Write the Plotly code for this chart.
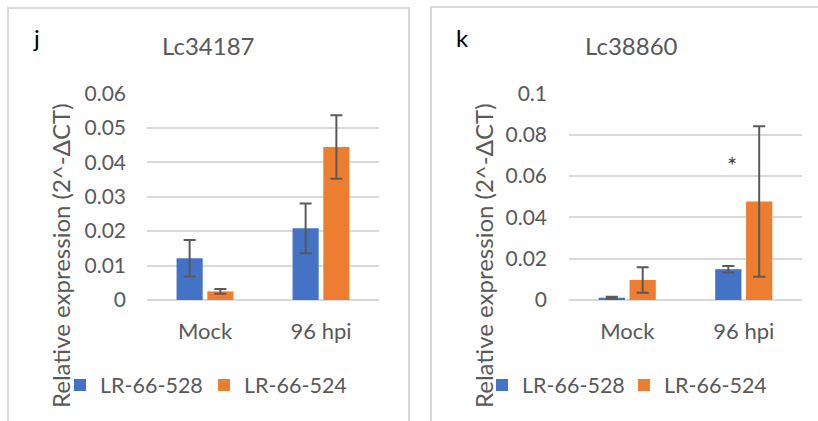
import plotly.graph_objects as go

W, H = 818, 421

categories = ["Mock", "96 hpi"]
series_names = ["LR-66-528", "LR-66-524"]
colors = ["#4472C4", "#ED7D31"]

# Panel j: Lc34187
j_vals = {"LR-66-528": [0.0121, 0.0208], "LR-66-524": [0.0025, 0.0444]}
j_err = {"LR-66-528": [0.0053, 0.0072], "LR-66-524": [0.0007, 0.0092]}
j_ticks = [0, 0.01, 0.02, 0.03, 0.04, 0.05, 0.06]
j_ticklabels = ["0", "0.01", "0.02", "0.03", "0.04", "0.05", "0.06"]

# Panel k: Lc38860
k_vals = {"LR-66-528": [0.0011, 0.0149], "LR-66-524": [0.0097, 0.0476]}
k_err = {"LR-66-528": [0.0005, 0.0016], "LR-66-524": [0.0062, 0.0364]}
k_ticks = [0, 0.02, 0.04, 0.06, 0.08, 0.1]
k_ticklabels = ["0", "0.02", "0.04", "0.06", "0.08", "0.1"]
k_star_y = 0.0673

FONT = "Lato"
GRAY = "#595959"
GRID = "#d9d9d9"

fig = go.Figure()

for name, col in zip(series_names, colors):
    fig.add_trace(go.Bar(
        x=categories, y=j_vals[name], name=name, marker_color=col,
        marker_line_width=0,
        error_y=dict(type="data", array=j_err[name], color=GRAY, thickness=2, width=6),
        xaxis="x", yaxis="y", legend="legend", legendgroup="j" + name))
for name, col in zip(series_names, colors):
    fig.add_trace(go.Bar(
        x=categories, y=k_vals[name], name=name, marker_color=col,
        marker_line_width=0,
        error_y=dict(type="data", array=k_err[name], color=GRAY, thickness=2, width=6),
        xaxis="x2", yaxis="y2", legend="legend2", legendgroup="k" + name))

def px(x):
    return x / W

def py(y):
    return 1 - y / H

ydom = [py(300), py(93.3)]
xfont = dict(family=FONT, size=22, color=GRAY)
yfont = dict(family=FONT, size=21, color=GRAY)
legfont = dict(family=FONT, size=21.5, color=GRAY)

fig.update_layout(
    width=W, height=H, margin=dict(l=0, r=0, t=0, b=0, autoexpand=False),
    paper_bgcolor="white", plot_bgcolor="white",
    barmode="group", bargap=0.47, bargroupgap=0.15,
    xaxis=dict(domain=[px(147), px(379)], anchor="y", showgrid=False, showline=False,
               ticks="", tickfont=xfont, ticklabelstandoff=16, automargin=False),
    yaxis=dict(domain=ydom, anchor="x", range=[0, 0.06], tickvals=j_ticks,
               ticktext=j_ticklabels, showgrid=True, gridcolor=GRID, gridwidth=2,
               zeroline=True, zerolinecolor=GRID, zerolinewidth=2, showline=False,
               ticks="", tickfont=yfont, ticklabelstandoff=20, automargin=False),
    xaxis2=dict(domain=[px(569), px(802)], anchor="y2", showgrid=False, showline=False,
                ticks="", tickfont=xfont, ticklabelstandoff=16, automargin=False),
    yaxis2=dict(domain=ydom, anchor="x2", range=[0, 0.1], tickvals=k_ticks,
                ticktext=k_ticklabels, showgrid=True, gridcolor=GRID, gridwidth=2,
                zeroline=True, zerolinecolor=GRID, zerolinewidth=2, showline=False,
                ticks="", tickfont=yfont, ticklabelstandoff=21, automargin=False),
    legend=dict(orientation="h", x=px(60), y=py(385), xanchor="left", yanchor="middle",
                font=legfont, bgcolor="rgba(0,0,0,0)",
                entrywidth=99, entrywidthmode="pixels", itemclick=False),
    legend2=dict(orientation="h", x=px(482), y=py(385), xanchor="left", yanchor="middle",
                 font=legfont, bgcolor="rgba(0,0,0,0)",
                 entrywidth=97, entrywidthmode="pixels", itemclick=False),
    showlegend=True,
)

# Panel borders
border = dict(color=GRID, width=2)
fig.add_shape(type="path", xref="paper", yref="paper",
              path=f"M {px(8)},{py(421)} L {px(8)},{py(8)} L {px(409)},{py(8)} L {px(409)},{py(421)}",
              line=border)
fig.add_shape(type="path", xref="paper", yref="paper",
              path=f"M {px(431)},{py(421)} L {px(431)},{py(7)} L {px(818)},{py(7)}",
              line=border)

ann = []
ann.append(dict(text="j", x=px(36), y=py(38), xref="paper", yref="paper", showarrow=False,
                font=dict(family=FONT, size=24, color="black"), xanchor="center", yanchor="middle"))
ann.append(dict(text="k", x=px(462), y=py(38), xref="paper", yref="paper", showarrow=False,
                font=dict(family=FONT, size=24, color="black"), xanchor="center", yanchor="middle"))
ann.append(dict(text="Lc34187", x=px(208), y=py(45), xref="paper", yref="paper", showarrow=False,
                font=dict(family=FONT, size=24, color=GRAY), xanchor="center", yanchor="middle"))
ann.append(dict(text="Lc38860", x=px(631), y=py(45), xref="paper", yref="paper", showarrow=False,
                font=dict(family=FONT, size=24, color=GRAY), xanchor="center", yanchor="middle"))
ann.append(dict(text="Relative expression (2^-ΔCT)", x=px(60), y=py(256), xref="paper", yref="paper",
                showarrow=False, textangle=-90,
                font=dict(family=FONT, size=24, color=GRAY), xanchor="center", yanchor="middle"))
ann.append(dict(text="Relative expression (2^-ΔCT)", x=px(483), y=py(256), xref="paper", yref="paper",
                showarrow=False, textangle=-90,
                font=dict(family=FONT, size=24, color=GRAY), xanchor="center", yanchor="middle"))
ann.append(dict(text="*", x="96 hpi", y=k_star_y, xref="x2", yref="y2", showarrow=False,
                xshift=-12, yshift=-4, font=dict(family=FONT, size=24, color="#404040"),
                xanchor="center", yanchor="middle"))
fig.update_layout(annotations=ann)

fig.write_html("out.html")
